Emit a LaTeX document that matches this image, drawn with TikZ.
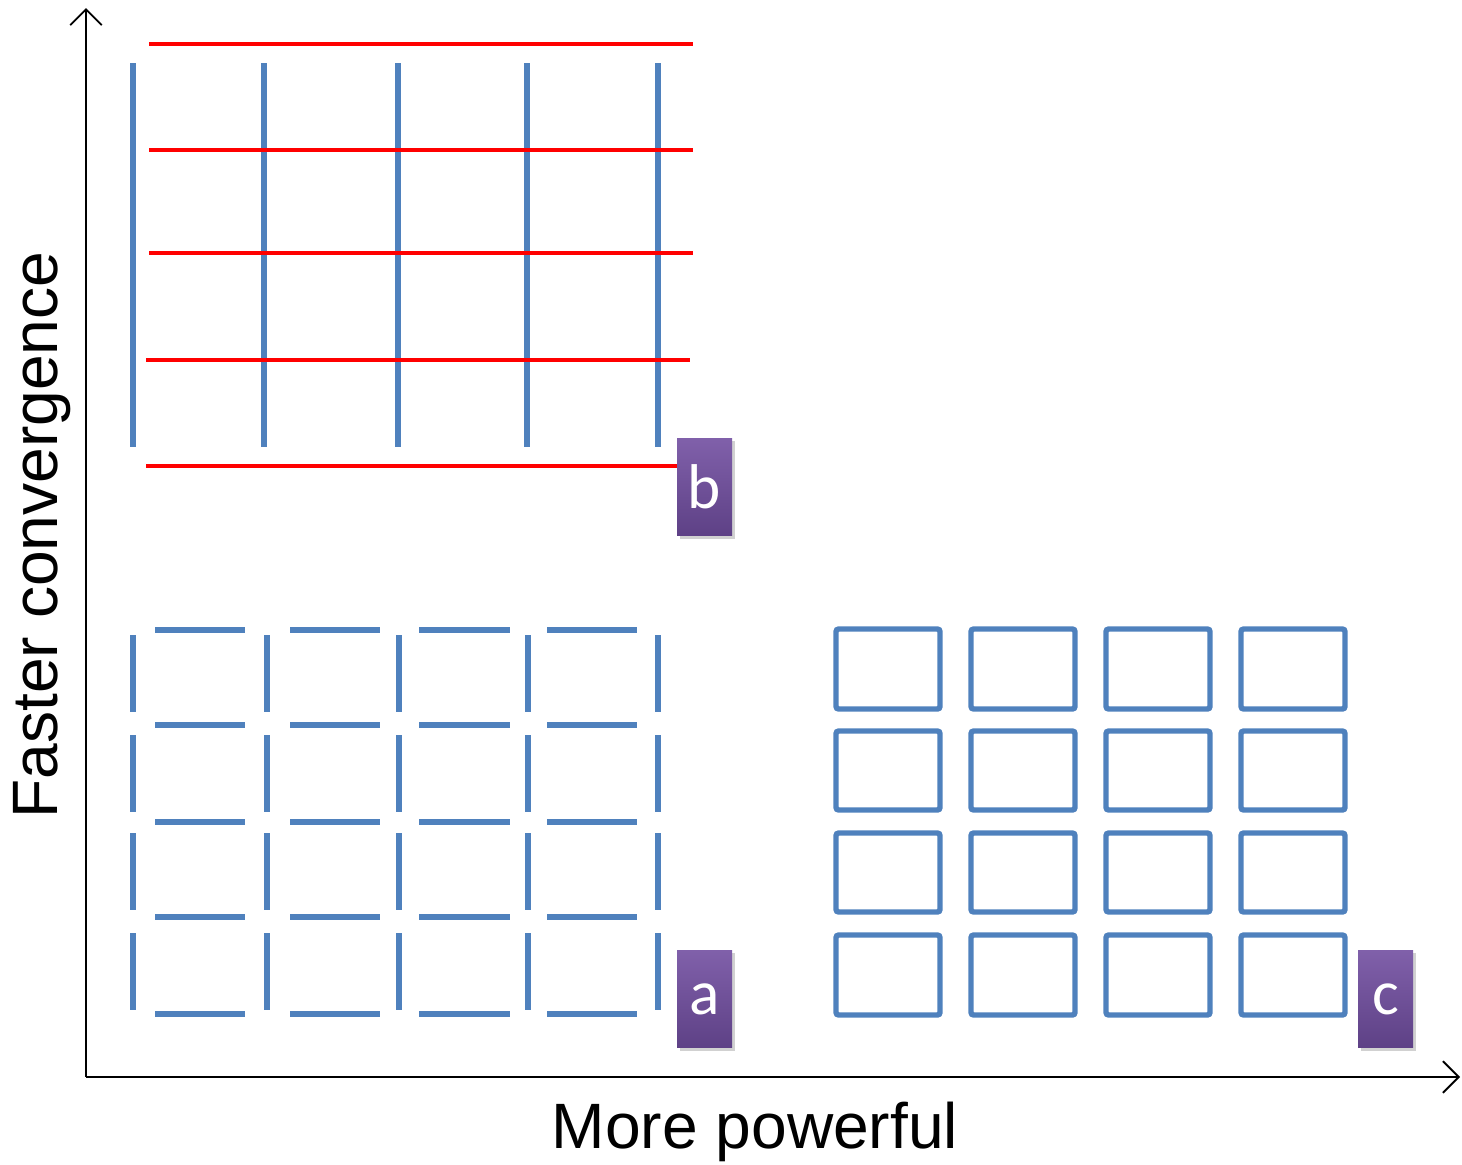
\documentclass[tikz,border=0pt]{standalone}
\usepackage{fontspec}
\setmainfont{Liberation Sans}
\newfontfamily\calib{Carlito}
\usetikzlibrary{arrows.meta}
\definecolor{gblue}{HTML}{4F81BD}
\definecolor{ptop}{HTML}{8060AA}
\definecolor{pbot}{HTML}{5E4186}
\tikzset{
  bl/.style={draw=gblue,line width=3.1pt},
  rd/.style={draw=red,line width=2.7pt},
  sq/.style={draw=gblue,line width=3.1pt,rounded corners=1.5pt},
  axis/.style={draw=black,line width=1.1pt,-{Straight Barb[length=9pt,width=18pt,line width=1.1pt]}},
  tag/.style={rectangle,minimum width=1.1cm,minimum height=1.94cm,inner sep=0pt,
    top color=ptop,bottom color=pbot,draw=none,text=white,font=\calib\fontsize{36}{36}\selectfont},
  tagshadow/.style={fill=black!18},
  axlabel/.style={font=\fontsize{36.5}{36.5}\selectfont,text=black}
}
\begin{document}
\begin{tikzpicture}[x=0.02cm,y=-0.02cm]
\useasboundingbox (0,0) rectangle (1462,1164);
% axes
\coordinate (O) at (86,1077);
\coordinate (Ytop) at (86,8);
\coordinate (Xend) at (1460,1077);
\draw[axis] (O) -- (Ytop);
\draw[axis] (O) -- (Xend);
\node[axlabel] (xl) at (755,1132) {More powerful};
\node[axlabel,rotate=90] (yl) at (42,535) {Faster convergence};
% grid b
\foreach \x in {133,264,398,527,658} \draw[bl] (\x,63) -- (\x,447);
\draw[rd] (149,44) -- (693,44);
\draw[rd] (149,150) -- (693,150);
\draw[rd] (149,253) -- (693,253);
\draw[rd] (146,360) -- (690,360);
% tag b
\fill[tagshadow] (680,441) rectangle (735,539);
\node[tag] (b) at (704.5,487) {b};
\draw[rd] (146,466) -- (b.west|-0,466);
% grid a
\foreach \x in {133,267,399,528,658}
  \foreach \y in {635,735,833,933} \draw[bl] (\x,\y) -- (\x,\y+77);
\foreach \y in {630,725,822,917,1014}
  \foreach \xa/\xb in {155/245,290/380,419/510,547/637} \draw[bl] (\xa,\y) -- (\xb,\y);
\fill[tagshadow] (680,953) rectangle (735,1051);
\node[tag] (a) at (704.5,999) {a};
% grid c
\foreach \x in {836,971,1106,1241}
  \foreach \y/\h in {629/80,731/79,833/79,935/80}
    \draw[sq] (\x,\y) rectangle (\x+104,\y+\h);
\fill[tagshadow] (1361,953) rectangle (1416,1051);
\node[tag] (c) at (1385.5,999) {c};
\end{tikzpicture}
\end{document}
